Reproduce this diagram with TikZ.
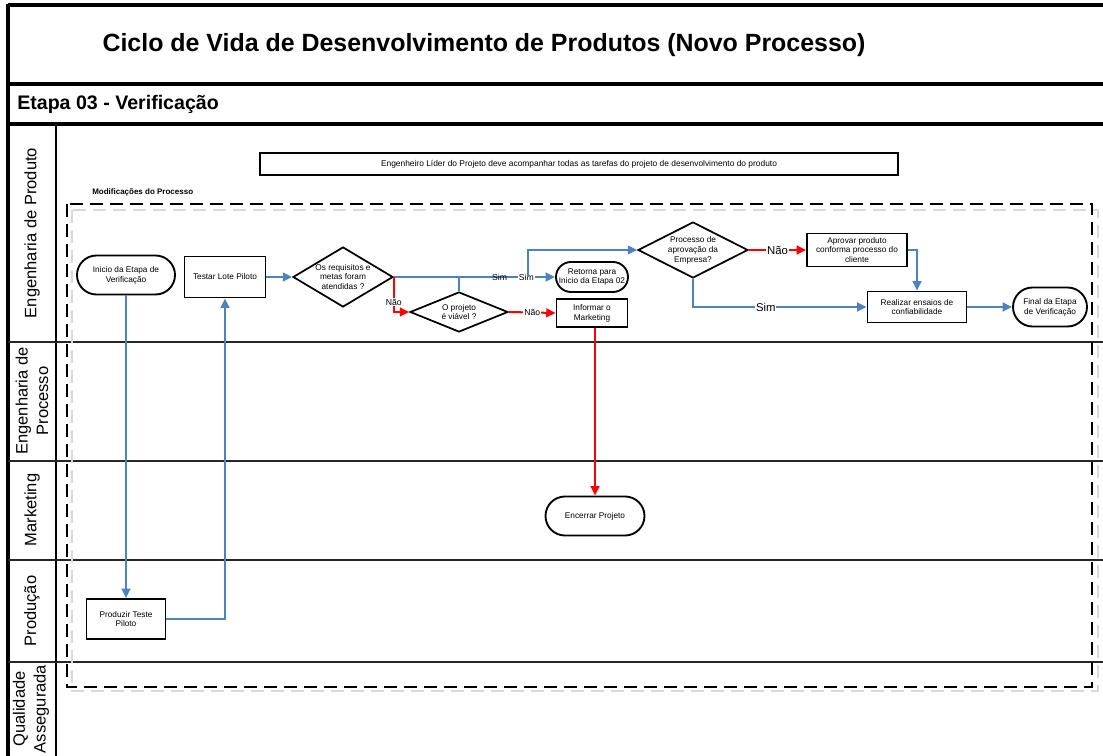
\documentclass[tikz,border=0pt]{standalone}
\usepackage{fontspec}
\setmainfont{Liberation Sans}
\usetikzlibrary{shapes.geometric,arrows.meta}

\definecolor{flowblue}{HTML}{4F81BD}
\definecolor{flowred}{HTML}{FF0000}

\tikzset{
  sz/.style 2 args={minimum width=#1*0.75pt, minimum height=#2*0.75pt},
  nodefont/.style={font=\fontsize{6.2}{7.4}\selectfont},
  task/.style={draw, line width=1.4pt, inner sep=1pt, align=center, nodefont},
  terminal/.style={task, rounded corners=#1*0.375pt},
  decision/.style={draw, diamond, line width=1.3pt, inner sep=0pt},
  dtext/.style={align=center, inner sep=0pt, nodefont},
  tip/.style={-{Triangle[length=7pt,width=6.5pt]}},
  blueflow/.style={draw=flowblue, line width=1.5pt, tip},
  blueline/.style={draw=flowblue, line width=1.5pt},
  redflow/.style={draw=flowred, line width=1.5pt, tip},
  lab/.style={fill=white, inner sep=0.6pt, font=\fontsize{6.5}{7.5}\selectfont},
  labbare/.style={inner sep=0.6pt, font=\fontsize{6.5}{7.5}\selectfont},
  labbig/.style={fill=white, inner sep=0.6pt, font=\fontsize{8.5}{9.5}\selectfont},
  heavy/.style={line width=2.3pt},
  laneline/.style={line width=1.3pt, black!85},
  lanename/.style={rotate=90, align=center, font=\fontsize{12.4}{15.5}\selectfont},
}

\begin{document}
\begin{tikzpicture}[x=0.75pt, y=-0.75pt]
  \fill[white] (0,0) rectangle (1103,756);
  \useasboundingbox (0,0) rectangle (1103,756);

  % pool frame
  \draw[heavy] (8,5) -- (1103,5);
  \draw[heavy] (8,84) -- (1103,84);
  \draw[heavy] (8,124) -- (1103,124);
  \draw[heavy] (8,4) -- (8,756);
  \draw[line width=1.3pt] (56,124) -- (56,756);
  \foreach \yy in {342,461,560,662}
    \draw[laneline] (8,\yy) -- (1103,\yy);

  % headings
  \node[font=\bfseries\fontsize{18.7}{20}\selectfont] (title) at (484,45)
    {Ciclo de Vida de Desenvolvimento de Produtos (Novo Processo)};
  \node[anchor=west, inner sep=0pt, font=\bfseries\fontsize{14.7}{16}\selectfont] (stage) at (17,104)
    {Etapa 03 - Verificação};

  % lane names
  \node[lanename] (lane1) at (32,233) {Engenharia de Produto};
  \node[lanename] (lane2) at (32,401) {Engenharia de\\Processo};
  \node[lanename] (lane3) at (32,510) {Marketing};
  \node[lanename] (lane4) at (32,611) {Produção};
  \node[lanename] (lane5) at (31,709) {Qualidade\\Assegurada};

  % note and changed-process region
  \node[draw, line width=1.3pt, sz={638}{22}, font=\fontsize{6.3}{7}\selectfont] (note) at (579,164)
    {Engenheiro Líder do Projeto deve acompanhar todas as tarefas do projeto de desenvolvimento do produto};
  \node[anchor=west, inner sep=0pt, font=\bfseries\fontsize{6}{7}\selectfont] (modlabel) at (92,192)
    {Modificações do Processo};
  \draw[gray!30, line width=1pt, dash pattern=on 9.75pt off 5.25pt] (72,210) rectangle (1098,691);
  \draw[line width=1.6pt, dash pattern=on 9.75pt off 5.25pt] (67,204) rectangle (1092,687);

  % flow steps
  \node[terminal=39, sz={98}{39}] (start) at (126,275) {Inicio da Etapa de\\Verificação};
  \node[task, sz={81}{41}] (testar) at (225,277) {Testar Lote Piloto};
  \node[decision, sz={100}{60}] (d1) at (343,277) {};
  \node[dtext] (d1t) at (d1.center) {Os requisitos e\\metas foram\\atendidas ?};
  \node[decision, sz={98}{40}] (d2) at (459,312) {};
  \node[dtext] (d2t) at (d2.center) {O projeto\\é viável ?};
  \node[terminal=30, sz={72}{30}] (ret) at (592,277) {Retorna para\\Inicio da Etapa 02};
  \node[task, sz={71}{28}] (inf) at (592,313) {Informar o\\Marketing};
  \node[decision, sz={110}{56}] (d3) at (693,250) {};
  \node[dtext] (d3t) at (d3.center) {Processo de\\aprovação da\\Empresa?};
  \node[task, sz={100}{33}] (apr) at (857,250) {Aprovar produto\\conforma processo do\\cliente};
  \node[task, sz={99}{31}] (real) at (917,307) {Realizar ensaios de\\confiabilidade};
  \node[terminal=39, sz={74}{39}] (fin) at (1050,307) {Final da Etapa\\de Verificação};
  \node[task, sz={79}{40}] (prod) at (126,619) {Produzir Teste\\Piloto};
  \node[terminal=39, sz={99}{39}] (enc) at (595,516) {Encerrar Projeto};

  % branch points on the "Sim" line
  \coordinate (j1) at (d2.north |- d1.east);
  \coordinate (j2) at (528,277);

  % connectors
  \draw[blueflow] (start.south) -- (prod.north);
  \draw[blueflow] (prod.east) -| (testar.south);
  \draw[blueflow] (testar.east) -- (d1.west);
  \draw[blueflow] (d1.east) -- node[labbare, pos=0.656] (sim1) {Sim}
                               node[lab, pos=0.822] (sim2) {Sim} (ret.west);
  \draw[blueline] (j1) -- (d2.north);
  \draw[blueflow] (j2) |- (d3.west);
  \draw[redflow] (d1.east) |- node[lab, pos=0.36] (nao1) {Não} (d2.west);
  \draw[redflow] (d2.east) -- node[lab] (nao2) {Não} (inf.west);
  \draw[redflow] (enc.north |- inf.south) -- (enc.north);
  \draw[redflow] (d3.east) -- node[labbig] (nao3) {Não} (apr.west);
  \draw[blueflow] (apr.east) -| (real.north);
  \draw[blueflow] (d3.south) |- node[labbig, pos=0.71] (sim3) {Sim} (real.west);
  \draw[blueflow] (real.east) -- (fin.west);
\end{tikzpicture}
\end{document}
